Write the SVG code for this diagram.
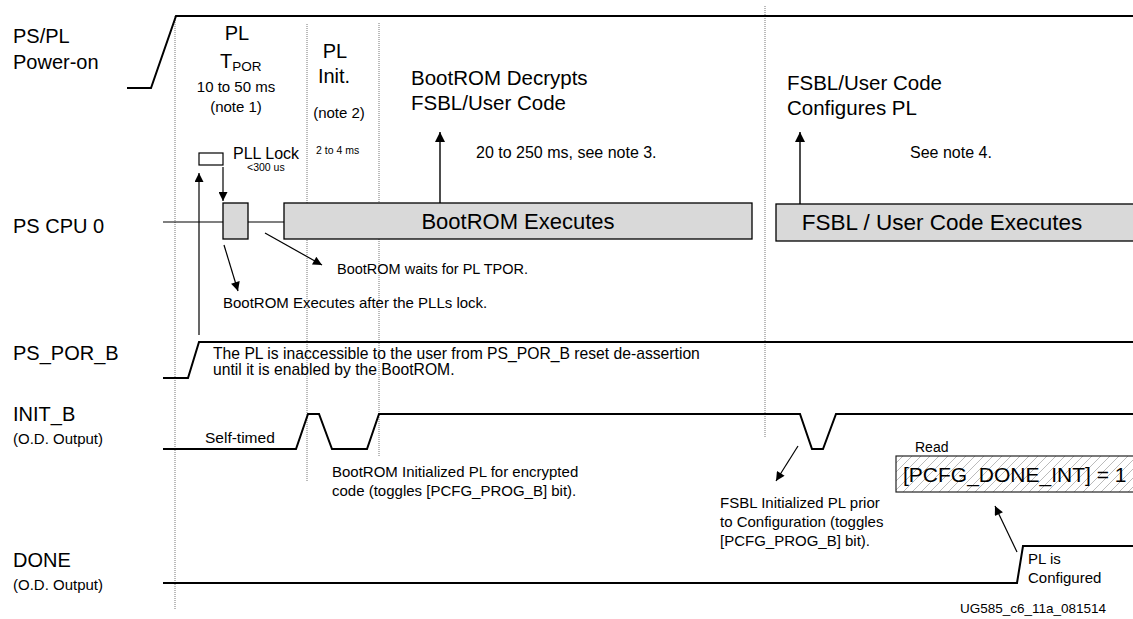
<svg xmlns="http://www.w3.org/2000/svg" width="1133" height="619" viewBox="0 0 1133 619">
<style>
text{font-family:"Liberation Sans",Arial,sans-serif;fill:#000}
.lbl{font-size:20px}
.sub{font-size:15px}
.ann{font-size:15px}
.sm{font-size:10.5px}
.big{font-size:20.5px}
.wave{fill:none;stroke:#000;stroke-width:2}
.thin{fill:none;stroke:#000;stroke-width:1.2}
.dot{fill:none;stroke:#777;stroke-width:1;stroke-dasharray:1,1}
.box{fill:#d9d9d9;stroke:#000;stroke-width:1.3}
.arr{fill:none;stroke:#000;stroke-width:1.2;marker-end:url(#ah)}
.arrb{fill:none;stroke:#000;stroke-width:1.4;marker-end:url(#ahb)}
</style>
<defs>
<marker id="ah" viewBox="0 0 10 10" refX="10" refY="5" markerUnits="userSpaceOnUse" markerWidth="13" markerHeight="9" orient="auto"><path d="M0,0 L10,5 L0,10 z" fill="#000"/></marker>
<marker id="ahb" viewBox="0 0 10 10" refX="10" refY="5" markerUnits="userSpaceOnUse" markerWidth="15" markerHeight="10" orient="auto"><path d="M0,0 L10,5 L0,10 z" fill="#000"/></marker>
<pattern id="hatch" width="9" height="9" patternUnits="userSpaceOnUse"><path d="M0,9 L9,0 M-1,1 L1,-1 M8,10 L10,8" stroke="#aaa" stroke-width="0.8"/></pattern>
</defs>
<rect width="1133" height="619" fill="#fff"/>

<g id="grid">
<line class="dot" x1="175" y1="16" x2="175" y2="610"/>
<line class="dot" x1="307" y1="24" x2="307" y2="482"/>
<line class="dot" x1="379" y1="23" x2="379" y2="457"/>
<line class="dot" x1="765" y1="6" x2="765" y2="437"/>
</g>

<g id="signal-labels">
<text class="lbl" x="13" y="43">PS/PL</text>
<text class="lbl" x="13" y="69">Power-on</text>
<text class="lbl" x="13" y="233">PS CPU 0</text>
<text class="lbl" x="13" y="360">PS_POR_B</text>
<text class="lbl" x="13" y="421">INIT_B</text>
<text class="sub" x="13" y="444">(O.D. Output)</text>
<text class="lbl" x="13" y="567">DONE</text>
<text class="sub" x="13" y="590">(O.D. Output)</text>
</g>

<g id="power-on">
<polyline class="wave" points="127,88 151,88 176,16 1133,16"/>
</g>

<g id="phase-labels">
<text class="lbl" x="237" y="40" text-anchor="middle">PL</text>
<text class="lbl" x="220" y="68">T<tspan font-size="13.5px" dy="3">POR</tspan></text>
<text class="sub" x="236" y="92" text-anchor="middle">10 to 50 ms</text>
<text class="sub" x="236" y="112" text-anchor="middle">(note 1)</text>
<text class="lbl" x="335" y="58" text-anchor="middle">PL</text>
<text class="lbl" x="334" y="83" text-anchor="middle">Init.</text>
<text class="sub" x="339" y="118" text-anchor="middle">(note 2)</text>
<text class="sm" x="316" y="154">2 to 4 ms</text>
<text style="font-size:16px" x="233" y="159">PLL Lock</text>
<text class="sm" x="247" y="171">&lt;300 us</text>
<text class="big" x="411" y="85">BootROM Decrypts</text>
<text class="big" x="411" y="110">FSBL/User Code</text>
<text style="font-size:16px" x="476" y="158">20 to 250 ms, see note 3.</text>
<text class="big" x="787" y="90">FSBL/User Code</text>
<text class="big" x="787" y="115">Configures PL</text>
<text style="font-size:16px" x="910" y="158">See note 4.</text>
</g>

<g id="pll-lock">
<rect x="199" y="153" width="24" height="12" fill="#fff" stroke="#000" stroke-width="1.2"/>
</g>

<g id="ps-cpu0">
<line class="thin" x1="163" y1="222" x2="223" y2="222"/>
<line class="thin" x1="248" y1="222" x2="284" y2="222"/>
<rect class="box" x="223" y="203" width="25" height="36"/>
</g>

<g id="bootrom-executes">
<rect class="box" x="284" y="203" width="468" height="36"/>
<text x="518" y="229" text-anchor="middle" style="font-size:22px">BootROM Executes</text>
</g>

<g id="fsbl-executes">
<rect class="box" x="776" y="204" width="370" height="37"/>
<text x="942" y="230" text-anchor="middle" style="font-size:22.5px">FSBL / User Code Executes</text>
</g>

<g id="ps-por-b">
<polyline class="wave" points="163,378 188,378 199,342 1133,342"/>
<text style="font-size:15.7px" x="213" y="359">The PL is inaccessible to the user from PS_POR_B reset de-assertion</text>
<text style="font-size:15.7px" x="213" y="375">until it is enabled by the BootROM.</text>
</g>

<g id="init-b">
<polyline class="wave" points="163,449 296,449 308,414 319,414 332,449 367,449 379,414 800,414 812,449 823,449 836,414 1133,414"/>
<text class="ann" x="205" y="443" style="font-size:15.5px">Self-timed</text>
<text class="ann" x="332" y="477">BootROM Initialized PL for encrypted</text>
<text class="ann" x="332" y="496">code (toggles [PCFG_PROG_B] bit).</text>
<text class="ann" x="720" y="508">FSBL Initialized PL prior</text>
<text class="ann" x="720" y="527">to Configuration (toggles</text>
<text class="ann" x="720" y="546">[PCFG_PROG_B] bit).</text>
</g>

<g id="pcfg-done">
<text style="font-size:14px" x="915" y="452">Read</text>
<rect x="896" y="456" width="245" height="36" fill="url(#hatch)" stroke="#222" stroke-width="1.2"/>
<text x="903" y="482" style="font-size:21px">[PCFG_DONE_INT] = 1</text>
</g>

<g id="done">
<polyline class="wave" points="163,583 1017,583 1023,546 1133,546"/>
<text class="ann" x="1028" y="564">PL is</text>
<text class="ann" x="1028" y="583">Configured</text>
</g>

<g id="connectors">
<line class="arr" x1="199" y1="335" x2="199" y2="173"/>
<line class="arr" x1="223" y1="167" x2="223" y2="201"/>
<line class="arr" x1="224" y1="245" x2="238" y2="291"/>
<line class="arr" x1="265" y1="233" x2="322" y2="265"/>
<line class="arrb" x1="440" y1="203" x2="440" y2="132"/>
<line class="arrb" x1="800" y1="204" x2="800" y2="132"/>
<line class="arr" x1="798" y1="446" x2="776" y2="481"/>
<line class="arr" x1="1017" y1="552" x2="995" y2="506"/>
</g>

<g id="annotations">
<text style="font-size:14.5px" x="337" y="274">BootROM waits for PL TPOR.</text>
<text class="ann" x="223" y="308">BootROM Executes after the PLLs lock.</text>
<text style="font-size:13.5px" x="960" y="613">UG585_c6_11a_081514</text>
</g>
</svg>
